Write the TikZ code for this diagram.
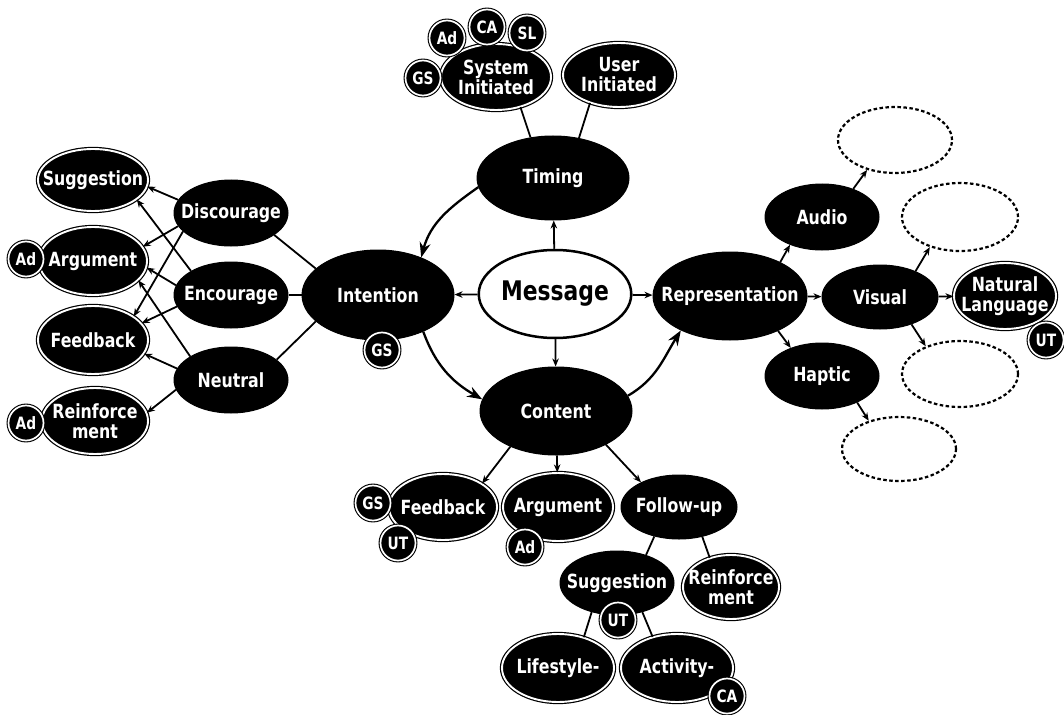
\documentclass[tikz,border=0pt]{standalone}
\usepackage{fontspec}
\setmainfont{DejaVu Sans Condensed}
\newfontfamily\lblfont{DejaVu Sans Condensed}[FakeStretch=0.9]
\usetikzlibrary{shapes.geometric,arrows.meta}

\tikzset{
  wh/.style 2 args={minimum width=#1pt, minimum height=#2pt},
  lbl/.style={font=\lblfont\bfseries\fontsize{19.5}{20}\selectfont},
  txt/.style={label={[lbl, text=white, align=center, inner sep=0pt]center:#1}},
  blk/.style={ellipse, fill=black, draw=black, line width=1pt, inner sep=0pt},
  dbl/.style={blk, double=white, double distance=1.9pt, line width=1.2pt},
  msg/.style={ellipse, fill=white, draw=black, line width=2.5pt, inner sep=0pt,
              font=\lblfont\bfseries\fontsize{27}{28}\selectfont},
  dsh/.style={ellipse, draw=black, line width=2.2pt, dash pattern=on 3.5pt off 2.5pt},
  badge/.style={circle, fill=black, draw=black, double=white, double distance=1.7pt,
                line width=1.1pt, text=white, inner sep=0pt, minimum size=35pt,
                font=\lblfont\bfseries\fontsize{17}{16}\selectfont},
  conn/.style={line width=1.8pt},
  arr/.style={conn, -{Stealth[length=8pt,width=6.5pt]}},
  bigarr/.style={line width=2.3pt, -{Stealth[length=15pt,width=11pt]}},
}

\begin{document}
\begin{tikzpicture}[x=1pt,y=1pt]
\useasboundingbox (0,0) rectangle (1064,-714);

% centre
\node[msg, wh={150}{88}] (msg) at (555,-294) {Message};
\node[blk, wh={152}{84}, txt={Timing}] (tim) at (553,-178) {};
\node[blk, wh={152}{90}, txt={Intention}] (int) at (378,-295) {};
\node[blk, wh={152}{88}, txt={Content}] (con) at (556,-411) {};
\node[blk, wh={154}{88}, txt={Representation}] (rep) at (730,-296) {};

% representation branch
\node[blk, wh={114}{66}, txt={Audio}] (aud) at (822,-217) {};
\node[blk, wh={116}{64}, txt={Visual}] (vis) at (880,-297) {};
\node[blk, wh={114}{66}, txt={Haptic}] (hap) at (822,-376) {};
\node[dsh, wh={114}{66}] (e1) at (895,-140) {};
\node[dsh, wh={116}{68}] (e2) at (960,-217) {};
\node[dsh, wh={116}{66}] (e3) at (960,-374) {};
\node[dsh, wh={114}{64}] (e4) at (899,-449) {};
\node[dbl, wh={102}{66}, txt={Natural\\Language}] (nl) at (1005,-296) {};

% intention branch
\node[blk, wh={114}{66}, txt={Discourage}] (dis) at (231,-213) {};
\node[blk, wh={114}{66}, txt={Encourage}] (enc) at (231,-295) {};
\node[blk, wh={114}{66}, txt={Neutral}] (neu) at (231,-380) {};
\node[dbl, wh={110}{62}, txt={Suggestion}] (sug) at (93,-180) {};
\node[dbl, wh={108}{68}, txt={Argument}] (arg) at (93,-261) {};
\node[dbl, wh={110}{68}, txt={Feedback}] (fbl) at (93,-340) {};
\node[dbl, wh={106}{66}, txt={Reinforce\\ment}] (rfl) at (95,-421) {};

% timing branch
\node[dbl, wh={110}{66}, txt={System\\Initiated}] (sys) at (496,-77) {};
\node[dbl, wh={112}{64}, txt={User\\Initiated}] (usr) at (619,-75) {};

% content branch
\node[dbl, wh={108}{66}, txt={Feedback}] (fbb) at (443,-507) {};
\node[dbl, wh={110}{68}, txt={Argument}] (agb) at (558,-507) {};
\node[blk, wh={116}{64}, txt={Follow-up}] (fol) at (679,-507) {};
\node[blk, wh={114}{64}, txt={Suggestion}] (sgb) at (617,-583) {};
\node[dbl, wh={96}{64}, txt={Reinforce\\ment}] (rfb) at (731,-587) {};
\node[dbl, wh={112}{68}, txt={Lifestyle-}] (lif) at (558,-668) {};
\node[dbl, wh={112}{68}, txt={Activity-}] (act) at (677,-668) {};

% connectors from the message
\draw[arr] (msg) -- (tim);
\draw[arr] (msg) -- (int);
\draw[arr] (msg) -- (con);
\draw[arr] (msg) -- (rep);

% curved flow
\draw[bigarr] (tim.187) to[out=215,in=75] (int.41);
\draw[bigarr] (int.321) to[out=290,in=150] (con.171);
\draw[bigarr] (con.12) to[out=30,in=238] (rep.215);

% timing
\draw[conn] (tim.119) -- (sys.309);
\draw[conn] (tim.57) -- (usr.224);

% intention
\draw[conn] (int.157) -- (dis.333);
\draw[conn] (int) -- (enc);
\draw[conn] (int.203) -- (neu.24);
\draw[arr] (dis.166) -- (sug.353);
\draw[arr] (dis.194) -- (arg.16);
\draw[arr] (dis.201) -- (fbl.30);
\draw[arr] (enc.149) -- (sug.336);
\draw[arr] (enc.170) -- (arg.353);
\draw[arr] (enc.192) -- (fbl.19);
\draw[arr] (neu.150) -- (arg.337);
\draw[arr] (neu.168) -- (fbl.345);
\draw[arr] (neu.190) -- (rfl.9);

% representation
\draw[arr] (rep.34) -- (aud.221);
\draw[arr] (rep) -- (vis);
\draw[arr] (rep.324) -- (hap.138);
\draw[arr] (aud.42) -- (e1.227);
\draw[arr] (vis.36) -- (e2.225);
\draw[arr] (vis) -- (nl);
\draw[arr] (vis.319) -- (e3.141);
\draw[arr] (hap.323) -- (e4.137);

% content
\draw[arr] (con.218) -- (fbb.31);
\draw[arr] (con) -- (agb);
\draw[arr] (con.326) -- (fol.147);
\draw[conn] (fol.230) -- (sgb.44);
\draw[conn] (fol.308) -- (rfb.126);
\draw[conn] (sgb.229) -- (lif.50);
\draw[conn] (sgb.311) -- (act.128);

% badges
\node[badge] (b1) at (423,-78) {GS};
\node[badge] (b2) at (447,-38) {Ad};
\node[badge] (b3) at (487,-27) {CA};
\node[badge] (b4) at (527,-33) {SL};
\node[badge] (b5) at (26,-259) {Ad};
\node[badge] (b6) at (26,-423) {Ad};
\node[badge] (b7) at (382,-350) {GS};
\node[badge] (b8) at (373,-503) {GS};
\node[badge] (b9) at (398,-543) {UT};
\node[badge] (b10) at (525,-547) {Ad};
\node[badge] (b11) at (618,-620) {UT};
\node[badge] (b12) at (727,-696) {CA};
\node[badge] (b13) at (1046,-340) {UT};
\end{tikzpicture}
\end{document}
